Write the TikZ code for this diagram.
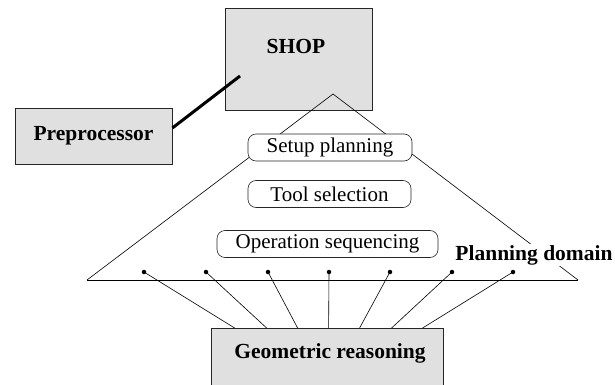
\documentclass[tikz,border=0pt]{standalone}
\usepackage{fontspec}
\setmainfont{Liberation Serif}
\usetikzlibrary{calc}
\definecolor{boxgray}{RGB}{224,224,224}
\begin{document}
\begin{tikzpicture}[x=1pt,y=-1pt,
  graybox/.style={draw=black!85, line width=0.8pt, fill=boxgray, inner sep=0pt},
  task/.style={draw=black!85, line width=0.6pt, rounded corners=8pt, fill=white, minimum height=27pt, inner sep=0pt, font=\fontsize{21}{25}\selectfont},
  boldlbl/.style={font=\fontsize{21.5}{26}\selectfont\bfseries},
  dotnode/.style={circle, fill=black, inner sep=0pt, minimum size=4.5pt},
  link/.style={line width=0.6pt}]
\useasboundingbox (0,0) rectangle (615,385);
\clip (0,0) rectangle (615,385);
% SHOP
\node[graybox, minimum width=147pt, minimum height=102pt] (shop) at (298.5,59) {};
\node[boldlbl] (shoplbl) at (296,46) {SHOP};
% Preprocessor
\node[graybox, minimum width=157pt, minimum height=56pt, boldlbl] (prep) at (93.5,136) {Preprocessor};
\coordinate (pin) at (240,76);
\draw[line width=3pt] ([yshift=8pt]prep.east) -- (pin);
% triangle
\coordinate (apex) at (333,94);
\coordinate (bl) at (87,280);
\coordinate (br) at (578,280);
\draw[link] (bl) -- (apex) -- (br);
\draw[line width=1pt] (bl) -- (br);
% tasks
\node[task, minimum width=164pt] (setup) at (330,147.5) {Setup planning};
\node[task, minimum width=163pt] (tool) at (329.5,194) {Tool selection};
\node[task, minimum width=221pt] (oper) at (327.5,244) {Operation sequencing};
\node[boldlbl, fill=white, inner sep=1pt] (domain) at (534,255) {Planning domain};
% geometric reasoning
\node[graybox, minimum width=232pt, minimum height=62pt, anchor=north] (geo) at (327,328) {};
\node[boldlbl] (geolbl) at (330,353) {Geometric reasoning};
\foreach \i/\dx/\gx in {1/144/24, 2/206/56, 3/268/87, 4/329/118, 5/390/149, 6/452/181, 7/513/212} {
  \node[dotnode] (d\i) at (\dx,272) {};
  \coordinate (g\i) at ($(geo.north west)+(\gx,0)$);
  \draw[link] (d\i.center) -- (g\i);
}
\end{tikzpicture}
\end{document}
